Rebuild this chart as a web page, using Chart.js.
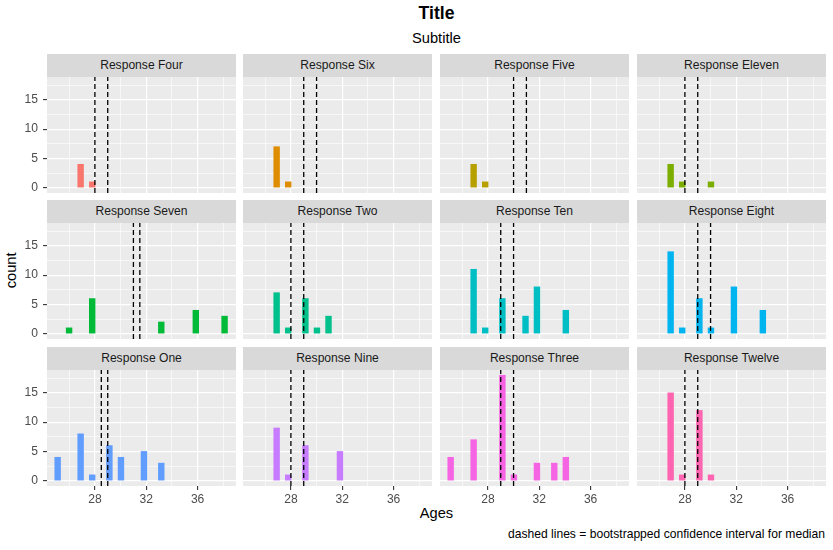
<!DOCTYPE html>
<html><head><meta charset="utf-8">
<script src="https://cdn.jsdelivr.net/npm/chart.js@4.4.1/dist/chart.umd.min.js"></script>
<style>
body{margin:0;background:#fff;width:833px;height:550px;position:relative;overflow:hidden;font-family:"Liberation Sans",Arial,sans-serif;}
.t{position:absolute;white-space:nowrap;color:#000;}
.strip{position:absolute;background:#D9D9D9;color:#1A1A1A;font-size:12.1px;text-align:center;height:23px;line-height:23px;white-space:nowrap;}
.box{position:absolute;}
</style></head><body>
<div class="t" style="left:0;width:873px;top:5px;font-size:17.6px;line-height:17.6px;font-weight:bold;text-align:center;">Title</div>
<div class="t" style="left:0;width:873px;top:30.5px;font-size:14.67px;line-height:14.67px;text-align:center;">Subtitle</div>
<div class="t" style="left:-38.8px;width:100px;top:262.7px;font-size:14.67px;line-height:14.67px;text-align:center;transform:rotate(-90deg);">count</div>
<div class="t" style="left:0;width:873px;top:506.3px;font-size:14.67px;line-height:14.67px;text-align:center;">Ages</div>
<div class="t" style="right:8px;top:528.4px;font-size:12.1px;line-height:12.1px;text-align:right;">dashed lines = bootstrapped confidence interval for median</div>
<div id="root"></div>
<script>
// ---- data ----
const panelNames = ["Response Four","Response Six","Response Five","Response Eleven",
                    "Response Seven","Response Two","Response Ten","Response Eight",
                    "Response One","Response Nine","Response Three","Response Twelve"];
// histogram bin centres (Ages) that hold observations
const binCenters = [25.10, 25.99, 26.89, 27.79, 29.13, 30.03, 30.93, 31.82, 33.17, 34.07, 35.86, 38.10];
const countsFour    = [0, 0,  4, 1,  0, 0, 0, 0, 0, 0, 0, 0];
const countsSix     = [0, 0,  7, 1,  0, 0, 0, 0, 0, 0, 0, 0];
const countsFive    = [0, 0,  4, 1,  0, 0, 0, 0, 0, 0, 0, 0];
const countsEleven  = [0, 0,  4, 1,  0, 1, 0, 0, 0, 0, 0, 0];
const countsSeven   = [0, 1,  0, 6,  0, 0, 0, 0, 2, 0, 4, 3];
const countsTwo     = [0, 0,  7, 1,  6, 1, 3, 0, 0, 0, 0, 0];
const countsTen     = [0, 0, 11, 1,  6, 0, 3, 8, 0, 4, 0, 0];
const countsEight   = [0, 0, 14, 1,  6, 1, 0, 8, 0, 4, 0, 0];
const countsOne     = [4, 0,  8, 1,  6, 4, 0, 5, 3, 0, 0, 0];
const countsNine    = [0, 0,  9, 1,  6, 0, 0, 5, 0, 0, 0, 0];
const countsThree   = [4, 0,  7, 0, 18, 1, 0, 3, 3, 4, 0, 0];
const countsTwelve  = [0, 0, 15, 1, 12, 1, 0, 0, 0, 0, 0, 0];
const ciLow  = [28, 29, 30, 28, 31,   28, 29, 29, 28.5, 28, 29, 28];
const ciHigh = [29, 30, 31, 29, 31.5, 29, 30, 30, 29,   29, 30, 29];
const xTicks = [26, 28, 30, 32, 34, 36, 38];
const xLabelTicks = [28, 32, 36];
const yTicks = [0, 2.5, 5, 7.5, 10, 12.5, 15, 17.5];
const yLabelTicks = [0, 5, 10, 15];

const allCounts = [countsFour, countsSix, countsFive, countsEleven, countsSeven, countsTwo,
                   countsTen, countsEight, countsOne, countsNine, countsThree, countsTwelve];
const fillColors = ["#F8766D","#DE8C00","#B79F00","#7CAE00","#00BA38","#00C08B",
                    "#00BFC4","#00B4F0","#619CFF","#C77CFF","#F564E3","#FF64B0"];

// ---- layout ----
const colLeft = [47, 243, 440, 637];
const stripTop = [54, 200, 347];
const stripH = 23, panelW = 189, panelH = 116;
const FONT = '"Liberation Sans", Arial, sans-serif';

const bgPlugin = {
  id: 'panelBg',
  beforeDraw(chart) {
    const a = chart.chartArea, ctx = chart.ctx;
    ctx.save();
    ctx.fillStyle = '#EBEBEB';
    ctx.fillRect(a.left, a.top, a.right - a.left, a.bottom - a.top);
    ctx.restore();
  }
};
const zeroPad = s => { s.paddingTop = 0; s.paddingBottom = 0; s.paddingLeft = 0; s.paddingRight = 0; };

const root = document.getElementById('root');
panelNames.forEach((name, i) => {
  const col = i % 4, row = Math.floor(i / 4);
  const showY = col === 0, showX = row === 2;
  const padL = showY ? 40 : 0, padB = showX ? 22 : 0;

  const strip = document.createElement('div');
  strip.className = 'strip';
  strip.style.left = colLeft[col] + 'px';
  strip.style.top = stripTop[row] + 'px';
  strip.style.width = panelW + 'px';
  strip.textContent = name;
  root.appendChild(strip);

  const box = document.createElement('div');
  box.className = 'box';
  box.style.left = (colLeft[col] - padL) + 'px';
  box.style.top = (stripTop[row] + stripH) + 'px';
  box.style.width = (panelW + padL) + 'px';
  box.style.height = (panelH + padB) + 'px';
  const cv = document.createElement('canvas');
  box.appendChild(cv);
  root.appendChild(box);

  const counts = allCounts[i];
  const barData = [];
  binCenters.forEach((x, j) => { if (counts[j] > 0) barData.push({x: x, y: counts[j]}); });
  const vline = (v) => ({
    type: 'line',
    data: [{x: v, y: -0.9}, {x: v, y: 18.9}],
    borderColor: '#000', borderWidth: 1.3, borderDash: [5, 3],
    pointRadius: 0, fill: false, order: 0
  });

  new Chart(cv, {
    type: 'bar',
    data: {
      datasets: [
        { type: 'bar', data: barData,
          backgroundColor: fillColors[i], borderWidth: 0, barThickness: 5.75, order: 1 },
        vline(ciLow[i]),
        vline(ciHigh[i])
      ]
    },
    options: {
      responsive: true, maintainAspectRatio: false, animation: false,
      devicePixelRatio: 1,
      layout: { padding: 0 },
      plugins: { legend: { display: false }, tooltip: { enabled: false }, title: { display: false } },
      scales: {
        x: {
          type: 'linear', min: 24.27, max: 38.99, offset: false,
          afterBuildTicks: s => { s.ticks = xTicks.map(v => ({value: v})); },
          afterFit: s => { s.height = padB; zeroPad(s); },
          border: { display: false },
          grid: {
            offset: false, color: '#FFFFFF',
            lineWidth: c => (c.tick && xLabelTicks.includes(c.tick.value)) ? 1.2 : 0.6,
            drawTicks: showX, tickLength: 4, tickWidth: 1.1,
            tickColor: c => (c.tick && xLabelTicks.includes(c.tick.value)) ? '#333333' : 'rgba(0,0,0,0)'
          },
          ticks: {
            display: showX, autoSkip: false, maxRotation: 0, minRotation: 0, padding: 2,
            color: '#4D4D4D', font: { family: FONT, size: 12.1 },
            callback: v => xLabelTicks.includes(v) ? String(v) : ''
          }
        },
        y: {
          type: 'linear', min: -0.9, max: 18.9,
          afterBuildTicks: s => { s.ticks = yTicks.map(v => ({value: v})); },
          afterFit: s => { s.width = padL; zeroPad(s); },
          border: { display: false },
          grid: {
            color: '#FFFFFF',
            lineWidth: c => (c.tick && yLabelTicks.includes(c.tick.value)) ? 1.2 : 0.6,
            drawTicks: showY, tickLength: 4, tickWidth: 1.1,
            tickColor: c => (c.tick && yLabelTicks.includes(c.tick.value)) ? '#333333' : 'rgba(0,0,0,0)'
          },
          ticks: {
            display: showY, autoSkip: false, padding: 5,
            color: '#4D4D4D', font: { family: FONT, size: 12.1 },
            callback: v => yLabelTicks.includes(v) ? String(v) : ''
          }
        }
      }
    },
    plugins: [bgPlugin]
  });
});
</script>
</body></html>
